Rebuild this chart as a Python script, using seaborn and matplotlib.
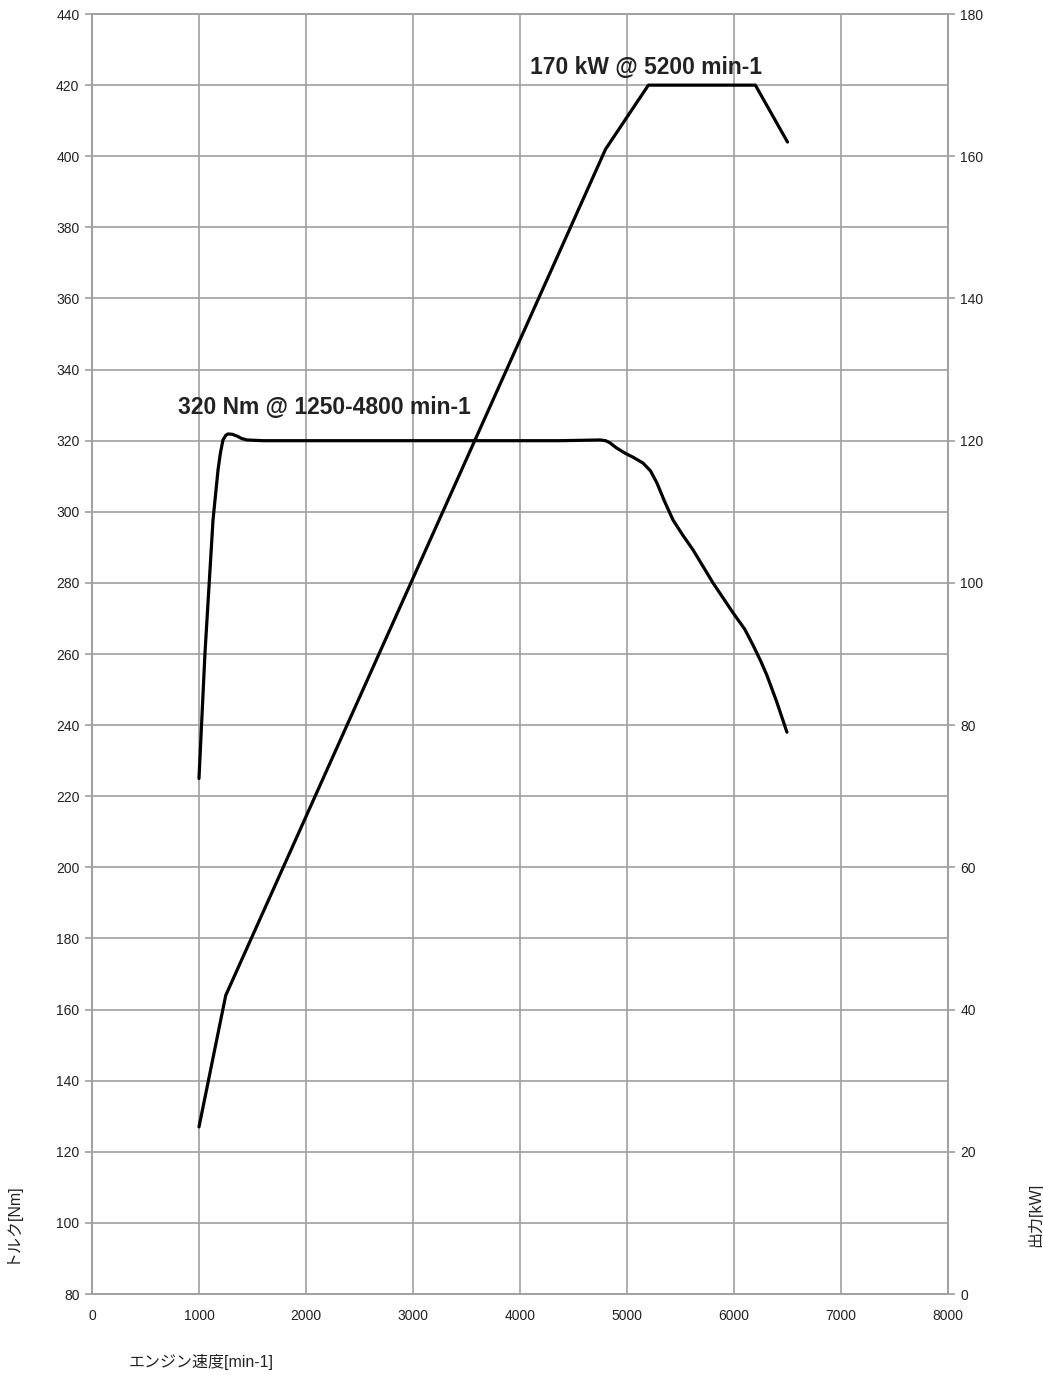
import numpy as np
import pandas as pd
import matplotlib
matplotlib.use("Agg")
import matplotlib.pyplot as plt
import seaborn as sns

# --- data ---
torque_rpm = [1000, 1056, 1131, 1178, 1200, 1224, 1250, 1271, 1310, 1355, 1400, 1449, 1600,
              2500, 3500, 4374, 4748, 4800, 4841, 4900, 4981, 5060, 5150, 5220, 5280, 5350,
              5430, 5520, 5617, 5804, 5991, 6100, 6178, 6250, 6308, 6400, 6495]
torque_nm = [225, 260.3, 297.7, 311.8, 316.5, 320.2, 321.5, 321.9, 321.8, 321.3, 320.6, 320.2, 320,
             320, 320, 320, 320.2, 320, 319.4, 318, 316.5, 315.3, 313.7, 311.5, 308.1, 303,
             297.7, 293.5, 289.3, 280, 271.6, 267.0, 262.5, 258, 254, 246.5, 238]

power_rpm = [1000, 1250, 4800, 5200, 6200, 6500]
power_kw = [23.5, 42, 161, 170, 170, 162]

x_ticks = list(range(0, 8001, 1000))
torque_ticks = list(range(80, 441, 20))
power_ticks = list(range(0, 181, 20))

torque_note = "320 Nm @ 1250-4800 min-1"
power_note = "170 kW @ 5200 min-1"

# --- style ---
sns.set_theme(style="white")
fams = ["Liberation Sans", "Noto Sans CJK JP", "DejaVu Sans"]
plt.rcParams["font.family"] = fams
grid_c = "#a0a0a0"
text_c = "#222222"

fig = plt.figure(figsize=(10.43, 13.75), dpi=100)
ax = fig.add_axes([0.0882, 0.0589, 0.8207, 0.9309])
ax2 = ax.twinx()

df_t = pd.DataFrame({"rpm": torque_rpm, "Nm": torque_nm})
df_p = pd.DataFrame({"rpm": power_rpm, "kW": power_kw})

sns.lineplot(data=df_t, x="rpm", y="Nm", ax=ax, color="black", lw=2.3, estimator=None, sort=False)
sns.lineplot(data=df_p, x="rpm", y="kW", ax=ax2, color="black", lw=2.3, estimator=None, sort=False)
for a in (ax, ax2):
    for ln in a.get_lines():
        ln.set_solid_joinstyle("round")
        ln.set_solid_capstyle("round")

ax.set_xlim(0, 8000)
ax.set_ylim(80, 440)
ax2.set_ylim(0, 180)
ax.set_xticks(x_ticks)
ax.set_yticks(torque_ticks)
ax2.set_yticks(power_ticks)

ax.grid(True, color=grid_c, lw=1.2)
ax.set_axisbelow(True)
for a in (ax, ax2):
    for s in a.spines.values():
        s.set_color(grid_c)
        s.set_linewidth(1.2)
    a.tick_params(axis="both", length=5, width=1.2, color=grid_c, labelsize=10, labelcolor=text_c)
ax.tick_params(axis="x", pad=6)
ax.tick_params(axis="y", pad=4)
ax2.tick_params(axis="y", pad=4)

ax.set_xlabel("エンジン速度[min-1]", fontsize=11.5, color=text_c)
ax.xaxis.set_label_coords(0.128, -0.047)
ax.set_ylabel("トルク[Nm]", fontsize=11.5, color=text_c)
ax.yaxis.set_label_coords(-0.086, 0.056)
ax2.set_ylabel("出力[kW]", fontsize=11.5, color=text_c, rotation=90)
ax2.yaxis.set_label_coords(1.092, 0.062)

ax.text(804, 329.2, torque_note, fontsize=16.5, fontweight="bold", color=text_c,
        ha="left", va="center")
ax2.text(4093, 172.5, power_note, fontsize=16.5, fontweight="bold", color=text_c,
         ha="left", va="center")

fig.savefig("out.png", dpi=100)
